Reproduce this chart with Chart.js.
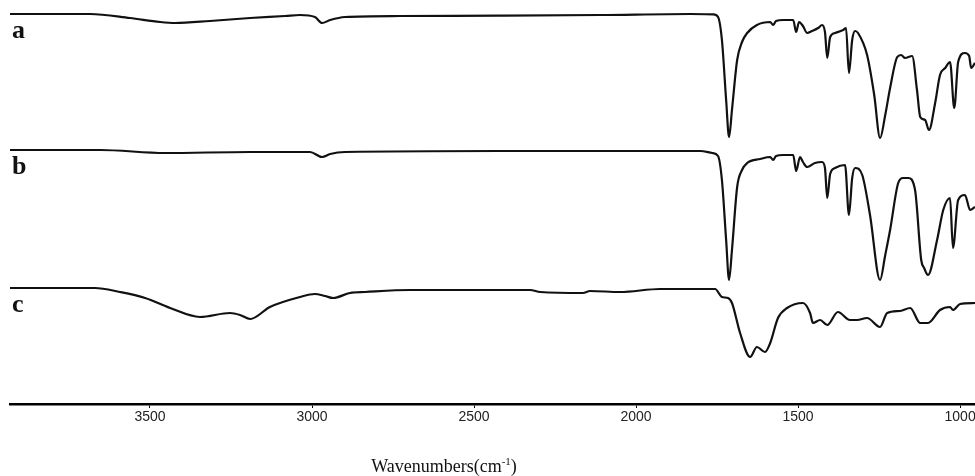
<!DOCTYPE html>
<html>
<head>
<meta charset="utf-8">
<script src="https://cdn.jsdelivr.net/npm/chart.js@4.4.0/dist/chart.umd.min.js"></script>
<style>
    html, body { margin: 0; padding: 0; background: #fff; }
    #wrap { width: 975px; height: 476px; position: relative; }
</style>
</head>
<body>
<div id="wrap"><canvas id="spectra"></canvas></div>
<script>
// Wavenumbers (cm-1) and offset transmittance for the three FTIR spectra
const wnA = [3932, 3685, 3562, 3469, 3423, 3315, 3191, 3083, 3037, 2991, 2969, 2944, 2898, 2728, 2420, 2111, 1833,
    1762, 1747, 1735, 1722, 1713, 1704, 1688, 1673, 1657, 1627, 1586, 1577, 1568, 1546, 1515, 1506, 1497, 1485,
    1472, 1457, 1438, 1426, 1417, 1410, 1401, 1386, 1361, 1352, 1343, 1333, 1324, 1315, 1287, 1265, 1247, 1231,
    1216, 1194, 1182, 1170, 1148, 1133, 1123, 1108, 1096, 1077, 1062, 1046, 1031, 1018, 1006, 985, 972, 966, 954];
const tA = [97.5, 97.5, 96.5, 95.5, 95.25, 95.75, 96.5, 97.0, 97.25, 96.75, 95.25, 96.0, 96.75, 97.0, 97.1, 97.25, 97.5,
    97.4, 96.75, 91.0, 76.0, 66.75, 73.5, 86.0, 90.5, 92.75, 94.75, 95.5, 94.75, 95.75, 96.0, 96.0, 93.0, 95.5, 94.5,
    92.75, 93.25, 94.0, 94.75, 93.0, 86.5, 91.75, 92.75, 93.5, 94.0, 82.75, 91.0, 93.25, 92.75, 87.25, 77.25, 66.5, 72.25,
    79.0, 86.75, 87.25, 86.5, 87.0, 78.5, 71.75, 71.0, 68.5, 75.25, 82.25, 84.0, 85.5, 74.0, 85.5, 87.75, 87.0, 84.0, 85.25];

const wnB = [3932, 3654, 3454, 3191, 3006, 2969, 2944, 2898, 2420, 1802,
    1765, 1747, 1735, 1722, 1713, 1704, 1688, 1673, 1657, 1617, 1586, 1577, 1568, 1546, 1515, 1506, 1494, 1485,
    1472, 1448, 1426, 1417, 1410, 1401, 1386, 1355, 1343, 1333, 1324, 1302, 1278, 1247, 1231, 1216, 1191, 1176,
    1160, 1139, 1120, 1111, 1099, 1071, 1052, 1031, 1022, 1006, 985, 969, 954];
const tB = [63.5, 63.5, 62.75, 63.0, 63.0, 61.75, 62.5, 63.0, 63.25, 63.25,
    62.75, 62.0, 56.0, 41.0, 31.0, 38.5, 54.25, 58.5, 60.25, 61.25, 61.75, 61.0, 62.0, 62.25, 62.25, 58.25, 61.75, 60.5,
    59.25, 60.25, 60.5, 59.0, 51.5, 57.5, 59.0, 59.75, 47.25, 56.5, 59.0, 57.25, 47.25, 31.0, 37.25, 43.5, 55.25, 56.5,
    56.5, 53.5, 36.0, 34.0, 32.25, 41.0, 48.5, 51.5, 39.0, 51.0, 52.25, 48.5, 49.25];

const wnC = [3932, 3670, 3593, 3515, 3438, 3346, 3253, 3222, 3191, 3130, 3037, 2991, 2960, 2935, 2883, 2836, 2698,
    2327, 2296, 2164, 2142, 2049, 1926, 1756, 1735, 1716, 1704, 1679, 1648, 1627, 1602, 1586, 1562, 1534, 1485,
    1463, 1454, 1432, 1410, 1377, 1340, 1318, 1287, 1247, 1225, 1185, 1154, 1123, 1099, 1062, 1031, 1022, 1000, 954];
const tC = [29.0, 29.0, 28.0, 26.5, 24.0, 21.75, 22.75, 22.25, 21.25, 24.25, 26.75, 27.5, 27.0, 26.5, 27.75, 28.0, 28.5,
    28.5, 28.0, 27.75, 28.25, 28.0, 28.75, 28.75, 26.75, 26.5, 25.25, 17.75, 11.75, 14.25, 13.0, 15.25, 21.5, 24.0, 25.25,
    22.75, 20.25, 21.0, 19.75, 23.0, 21.0, 21.0, 21.5, 19.25, 22.75, 23.25, 24.0, 20.25, 20.25, 23.5, 24.25, 23.5, 25.0, 25.25];

const traceLabels = ["a", "b", "c"];
const xTicks = [3500, 3000, 2500, 2000, 1500, 1000];

function toPoints(wn, t) {
    return wn.map((x, i) => ({ x: x, y: t[i] }));
}

const series = [toPoints(wnA, tA), toPoints(wnB, tB), toPoints(wnC, tC)];

// letters a/b/c just under the start of each trace
const traceLabelPlugin = {
    id: "traceLabels",
    afterDatasetsDraw(chart) {
        const { ctx, chartArea } = chart;
        const yScale = chart.scales.y;
        ctx.save();
        ctx.font = "bold 26px 'Liberation Serif'";
        ctx.fillStyle = "#111";
        ctx.textBaseline = "alphabetic";
        traceLabels.forEach((lbl, i) => {
            const y0 = yScale.getPixelForValue(series[i][0].y);
            ctx.fillText(lbl, chartArea.left + 2, y0 + 24);
        });
        ctx.restore();
    }
};

// x-axis title with a real superscript on cm-1
const axisTitlePlugin = {
    id: "axisTitle",
    afterDraw(chart) {
        const ctx = chart.ctx;
        const big = "18px 'Liberation Serif'";
        const small = "11px 'Liberation Serif'";
        const parts = [["Wavenumbers(cm", big, 0], ["-1", small, -7], [")", big, 0]];
        ctx.save();
        ctx.fillStyle = "#111";
        ctx.textBaseline = "alphabetic";
        let total = 0;
        parts.forEach(p => { ctx.font = p[1]; total += ctx.measureText(p[0]).width; });
        let x = 444 - total / 2;
        const base = 472;
        parts.forEach(p => {
            ctx.font = p[1];
            ctx.fillText(p[0], x, base + p[2]);
            x += ctx.measureText(p[0]).width;
        });
        ctx.restore();
    }
};

new Chart(document.getElementById("spectra"), {
    type: "line",
    data: {
        datasets: series.map((pts, i) => ({
            label: traceLabels[i],
            data: pts,
            borderColor: "#111",
            borderWidth: 2.2,
            pointRadius: 0,
            cubicInterpolationMode: "monotone",
            fill: false
        }))
    },
    options: {
        responsive: true,
        maintainAspectRatio: false,
        animation: false,
        devicePixelRatio: 1,
        layout: { padding: { left: 10, right: 0, top: 0, bottom: 0 } },
        plugins: {
            legend: { display: false },
            tooltip: { enabled: false }
        },
        scales: {
            x: {
                type: "linear",
                reverse: true,
                min: 954,
                max: 3932,
                afterBuildTicks: s => { s.ticks = xTicks.map(v => ({ value: v })); },
                afterFit: s => {
                    s.height = 72;
                    s.paddingLeft = 0;
                    s.paddingRight = 0;
                },
                border: { display: true, color: "#000", width: 2.5 },
                grid: { display: true, drawOnChartArea: false, drawTicks: true, tickLength: 4, color: "#000", lineWidth: 1 },
                ticks: {
                    color: "#222",
                    font: { family: "'Liberation Sans Narrow', 'Liberation Sans'", size: 14 },
                    padding: 1,
                    maxRotation: 0,
                    autoSkip: false,
                    callback: v => String(v)
                },
                title: { display: false }
            },
            y: { display: false, min: 0, max: 101 }
        }
    },
    plugins: [traceLabelPlugin, axisTitlePlugin]
});
</script>
</body>
</html>
